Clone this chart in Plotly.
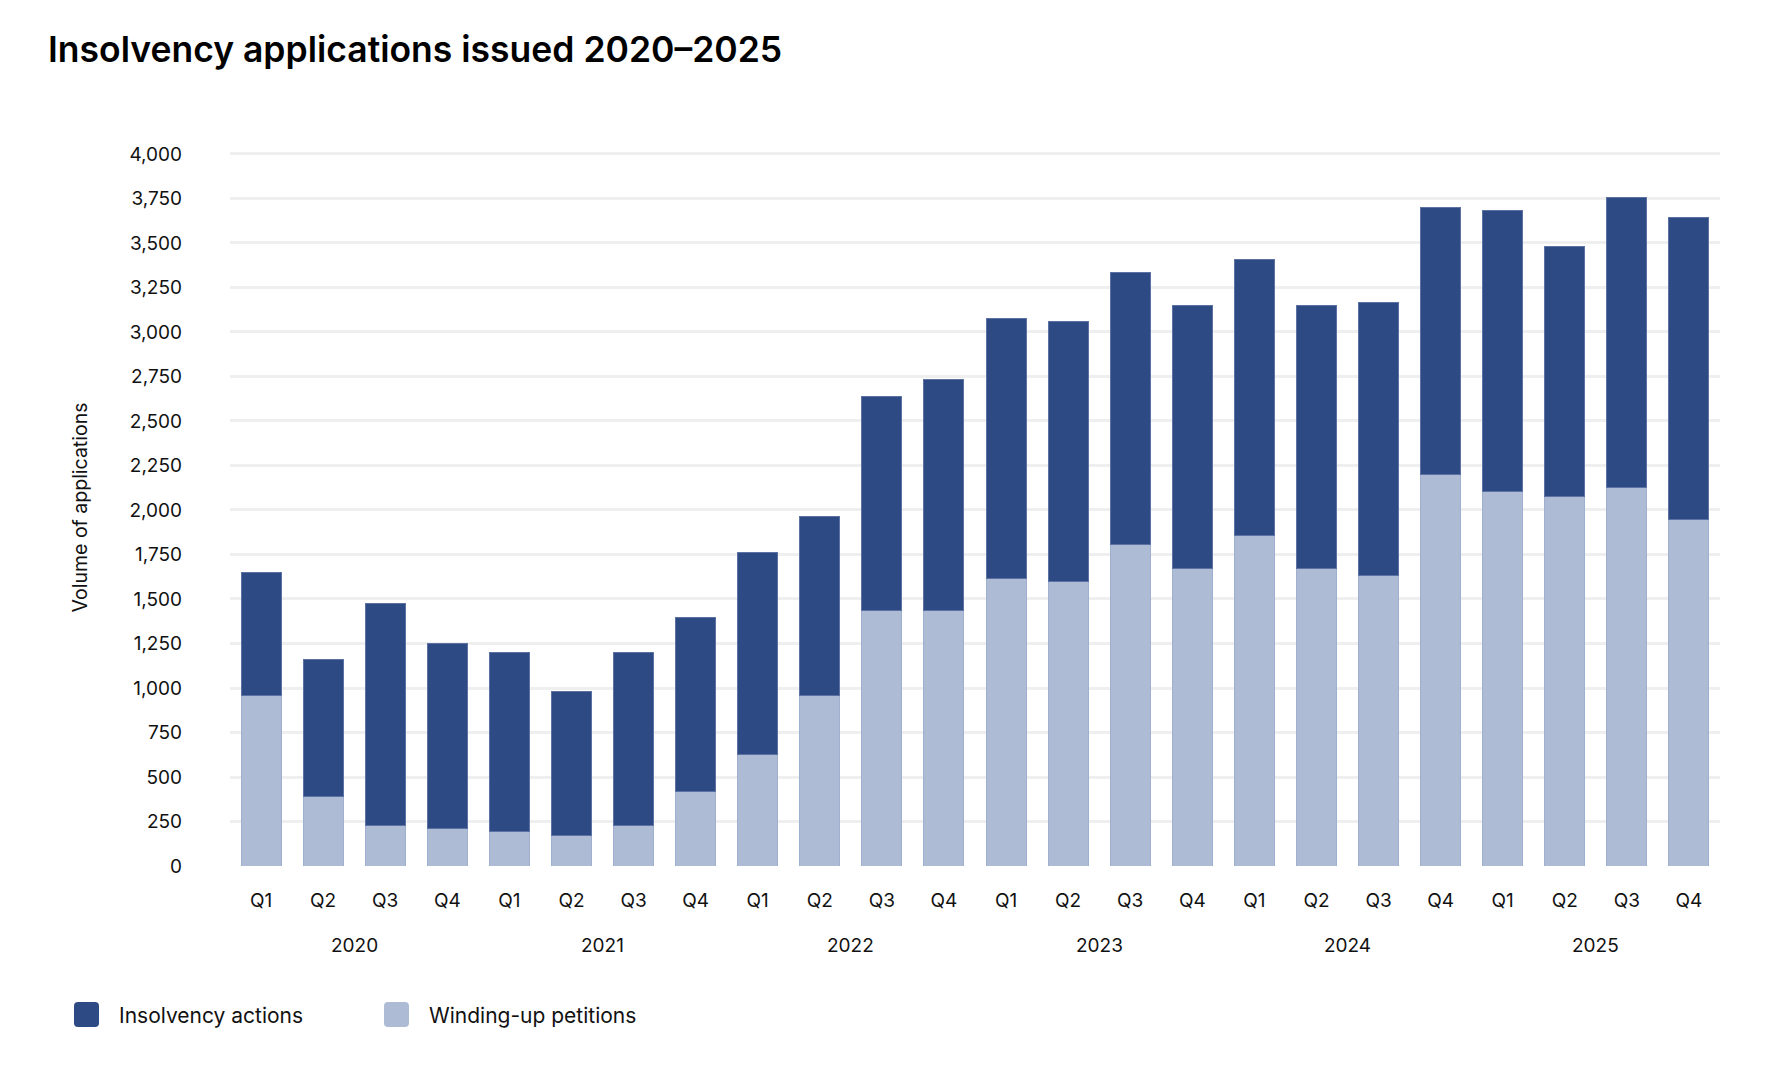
import plotly.graph_objects as go

# ---- data ----
years = ["2020", "2021", "2022", "2023", "2024", "2025"]
quarters = ["Q1", "Q2", "Q3", "Q4"]
winding_up_petitions = [960, 390, 230, 211, 192, 173, 230, 416, 627, 960, 1434, 1434,
                        1613, 1600, 1805, 1670, 1856, 1670, 1632, 2202, 2106, 2074, 2125, 1946]
insolvency_actions = [691, 768, 1242, 1037, 1005, 806, 967, 979, 1133, 1005, 1203, 1299,
                      1465, 1459, 1529, 1479, 1549, 1479, 1536, 1497, 1574, 1408, 1632, 1696]

categories = [f"{y} {q}" for y in years for q in quarters]
tick_text = [q for y in years for q in quarters]

DARK = "#2D4A84"
LIGHT = "#ADBBD4"
FONT = "Inter"

W, H = 1786, 1072
ML, MR, MT, MB = 222, 74, 141, 214
PW, PH = W - ML - MR, H - MT - MB


def px_x(px):
    return (px - ML) / PW


def px_y(py):
    return (H - MB - py) / PH


fig = go.Figure()
fig.add_trace(go.Bar(x=categories, y=winding_up_petitions, name="Winding-up petitions",
                     marker=dict(color=LIGHT, line=dict(color="#9fb0cf", width=1))))
fig.add_trace(go.Bar(x=categories, y=insolvency_actions, name="Insolvency actions",
                     marker=dict(color=DARK, line=dict(color="#5b72a3", width=1))))

annotations = []
for i, y in enumerate(years):
    annotations.append(dict(x=i * 4 + 1.5, y=px_y(937), xref="x", yref="paper",
                            text=y, showarrow=False, xanchor="center", yanchor="middle",
                            font=dict(family=FONT, size=19, color="#111111")))

shapes = []
legend_items = [("Insolvency actions", DARK, 66, 109), ("Winding-up petitions", LIGHT, 376, 419)]
for label, col, sx, tx in legend_items:
    x0, x1 = sx, sx + 25
    y0, y1 = 994, 1019
    r = 4
    path = (f"M {px_x(x0 + r)} {px_y(y0)} L {px_x(x1 - r)} {px_y(y0)} "
            f"Q {px_x(x1)} {px_y(y0)} {px_x(x1)} {px_y(y0 + r)} "
            f"L {px_x(x1)} {px_y(y1 - r)} Q {px_x(x1)} {px_y(y1)} {px_x(x1 - r)} {px_y(y1)} "
            f"L {px_x(x0 + r)} {px_y(y1)} Q {px_x(x0)} {px_y(y1)} {px_x(x0)} {px_y(y1 - r)} "
            f"L {px_x(x0)} {px_y(y0 + r)} Q {px_x(x0)} {px_y(y0)} {px_x(x0 + r)} {px_y(y0)} Z")
    shapes.append(dict(type="path", xref="paper", yref="paper", path=path,
                       fillcolor=col, line=dict(width=0), layer="above"))
    annotations.append(dict(x=px_x(tx), y=px_y(1007), xref="paper", yref="paper", text=label,
                            showarrow=False, xanchor="left", yanchor="middle",
                            font=dict(family=FONT, size=21, color="#111111")))

annotations.append(dict(x=px_x(38), y=px_y(41), xref="paper", yref="paper",
                        text="Insolvency applications issued 2020\u20132025",
                        showarrow=False, xanchor="left", yanchor="middle",
                        font=dict(family=FONT, size=35.5, weight=600, color="#000000")))

fig.update_layout(
    width=W, height=H,
    margin=dict(l=ML, r=MR, t=MT, b=MB),
    paper_bgcolor="white", plot_bgcolor="white",
    barmode="stack", bargap=0.355,
    showlegend=False,
    annotations=annotations,
    shapes=shapes,
    font=dict(family=FONT, color="#111111"),
)
fig.update_xaxes(type="category", tickvals=categories, ticktext=tick_text,
                 tickfont=dict(family=FONT, size=19, color="#111111"),
                 showgrid=False, showline=False, ticks="", ticklabelstandoff=21,
                 range=[-0.5, 23.5])
fig.update_yaxes(range=[0, 4028], tickvals=list(range(0, 4001, 250)), tickformat=",",
                 tickfont=dict(family=FONT, size=19, color="#111111"),
                 showgrid=True, gridcolor="#EFEFEF", gridwidth=3,
                 zeroline=False, showline=False, ticks="", ticklabelstandoff=47,
                 title=dict(text="Volume of applications", standoff=36,
                            font=dict(family=FONT, size=19.5, color="#111111")))

fig.write_html("out.html")
